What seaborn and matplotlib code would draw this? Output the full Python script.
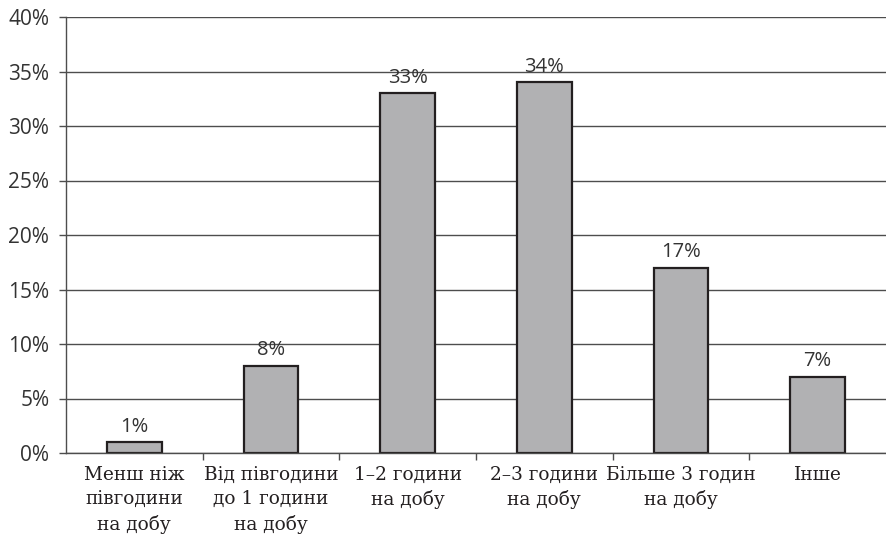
import matplotlib
matplotlib.use("Agg")
import matplotlib.pyplot as plt
from matplotlib.ticker import FuncFormatter
import seaborn as sns
import pandas as pd

categories = [
    "Менш ніж\nпівгодини\nна добу",
    "Від півгодини\nдо 1 години\nна добу",
    "1–2 години\nна добу",
    "2–3 години\nна добу",
    "Більше 3 годин\nна добу",
    "Інше",
]
shares = [1, 8, 33, 34, 17, 7]
y_ticks = [0, 5, 10, 15, 20, 25, 30, 35, 40]

df = pd.DataFrame({"category": categories, "share": shares})

sns.set_theme(style="white")
plt.rcParams["font.family"] = ["Open Sans", "DejaVu Sans"]

fig = plt.figure(figsize=(8.86, 5.47), dpi=100)
ax = fig.add_axes([66 / 886, 1 - 453 / 547, 1 - 66 / 886, (453 - 17) / 547])

ax.set_axisbelow(True)
for v in y_ticks:
    ax.axhline(v, color="#4d4d4d", linewidth=1.0, zorder=0)

sns.barplot(data=df, x="category", y="share", color="#b1b1b3",
            saturation=1, width=0.40, edgecolor="#231f20", linewidth=1.6,
            ax=ax, zorder=2)

for i, v in enumerate(shares):
    ax.annotate(f"{v}%", (i, v), xytext=(0, 4), textcoords="offset points",
                ha="center", va="bottom", fontsize=14.5, color="#333333")

ax.set_ylim(0, 40)
ax.set_xlim(-0.5, len(categories) - 0.5)
ax.set_yticks(y_ticks)
ax.yaxis.set_major_formatter(FuncFormatter(lambda v, p: f"{v:.0f}%"))
ax.set_xlabel("")
ax.set_ylabel("")

# category labels centred under bars, boundary ticks between them
ax.set_xticks(range(len(categories)))
ax.set_xticklabels(categories, family=["DejaVu Serif"], fontsize=13.3,
                   color="#231f20", linespacing=1.45)
ax.tick_params(axis="x", length=0, pad=9)
ax.set_xticks([i + 0.5 for i in range(len(categories) - 1)], minor=True)
ax.tick_params(axis="x", which="minor", length=5, width=1, color="#4d4d4d",
               direction="out", bottom=True)

ax.tick_params(axis="y", length=5, width=1, color="#4d4d4d", direction="out",
               left=True, labelsize=15, labelcolor="#333333", pad=7)

for s in ["top", "right"]:
    ax.spines[s].set_visible(False)
for s in ["left", "bottom"]:
    ax.spines[s].set_color("#4d4d4d")
    ax.spines[s].set_linewidth(1.0)

fig.savefig("out.png", dpi=100)
